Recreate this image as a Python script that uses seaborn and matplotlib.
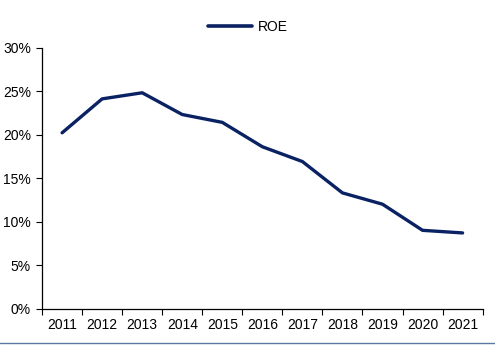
import matplotlib
matplotlib.use("Agg")
import matplotlib.pyplot as plt
import seaborn as sns
import pandas as pd
import numpy as np
from matplotlib.lines import Line2D

years = ["2011", "2012", "2013", "2014", "2015", "2016",
         "2017", "2018", "2019", "2020", "2021"]
roe = [20.2, 24.1, 24.8, 22.3, 21.4, 18.6, 16.9, 13.3, 12.0, 9.0, 8.7]
y_ticks = [0, 5, 10, 15, 20, 25, 30]

df = pd.DataFrame({"year": years, "ROE": roe})

sns.set_theme(style="white")
plt.rcParams["font.family"] = ["Liberation Sans", "DejaVu Sans"]

fig = plt.figure(figsize=(4.95, 3.48), dpi=100)
ax = fig.add_axes([0.085, 0.113, 0.89, 0.7505])

sns.lineplot(data=df, x="year", y="ROE", ax=ax, color="#0a2263",
             linewidth=2.4, sort=False)

ax.set_xlim(-0.5, len(years) - 0.5)
ax.set_ylim(0, 30)
ax.set_yticks(y_ticks)
ax.set_yticklabels([f"{v}%" for v in y_ticks])
ax.set_xticks(range(len(years)))
ax.set_xticklabels(years)
ax.set_xticks(np.arange(-0.5, len(years), 1.0), minor=True)
ax.tick_params(axis="x", which="major", length=0, pad=7, labelsize=10,
               colors="black")
ax.tick_params(axis="x", which="minor", length=4, width=0.8, color="black",
               direction="out", bottom=True)
ax.tick_params(axis="y", length=4, width=0.8, color="black", labelsize=10,
               labelcolor="black", direction="out", left=True, pad=4)
ax.set_xlabel("")
ax.set_ylabel("")

for side in ["top", "right"]:
    ax.spines[side].set_visible(False)
for side in ["left", "bottom"]:
    ax.spines[side].set_color("black")
    ax.spines[side].set_linewidth(0.9)

handle = Line2D([0], [0], color="#0a2263", linewidth=2.6)
fig.legend([handle], ["ROE"], loc="center", bbox_to_anchor=(0.5, 0.922),
           frameon=False, fontsize=10, handlelength=3.2, handletextpad=0.4,
           labelcolor="black")

# thin rule along the bottom of the figure
fig.add_artist(Line2D([0.0, 1.0], [0.014, 0.014], transform=fig.transFigure,
                      color="#5b79a3", linewidth=1.0))

fig.savefig("out.png", dpi=100)
